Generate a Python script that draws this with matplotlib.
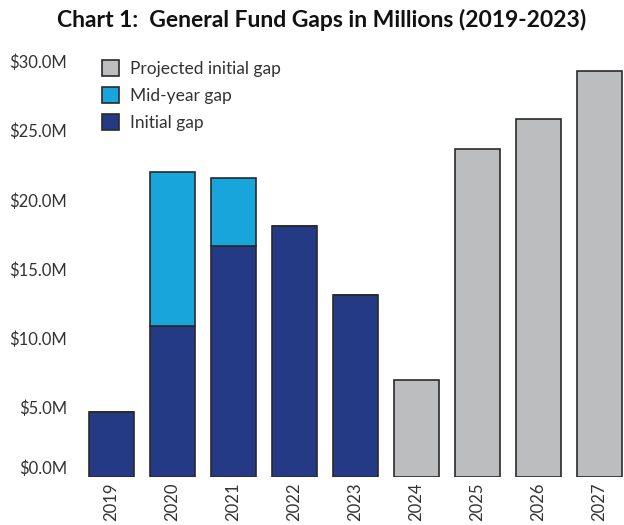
import matplotlib.pyplot as plt
import numpy as np

years = ['2019', '2020', '2021', '2022', '2023', '2024', '2025', '2026', '2027']
initial_gap = [4.7, 10.9, 16.7, 18.1, 13.1]          # 2019-2023
midyear_gap = [0.0, 11.1, 4.9, 0.0, 0.0]             # on top of initial gap
projected_gap = [7.0, 23.7, 25.8, 29.3]              # 2024-2027
yticks = [0, 5, 10, 15, 20, 25, 30]

navy = '#243a84'
cyan = '#17a5dc'
grey = '#bbbdbe'
edge = '#2a2a2a'

plt.rcParams['font.family'] = ['Lato', 'DejaVu Sans']

fig = plt.figure(figsize=(6.24, 5.25), dpi=100)
ax = fig.add_axes([0.125, 0.0914, 0.875, 0.80])

x = np.arange(len(years))
n_act = len(initial_gap)
w = 0.75
ax.bar(x[:n_act], initial_gap, width=w, color=navy, edgecolor=edge, linewidth=1.2, label='Initial gap')
ax.bar(x[:n_act], midyear_gap, bottom=initial_gap, width=w, color=cyan, edgecolor=edge, linewidth=1.2,
       label='Mid-year gap')
ax.bar(x[n_act:], projected_gap, width=w, color=grey, edgecolor=edge, linewidth=1.2,
       label='Projected initial gap')

ax.set_xlim(-0.55, 8.4)
ax.set_ylim(0, 30.3)
ax.set_yticks(yticks)
ax.set_yticklabels([f'${v:.1f}M' for v in yticks], fontsize=12, color='#333333')
ax.get_yticklabels()[0].set_va('bottom')
ax.set_xticks(x)
ax.set_xticklabels(years, rotation=90, fontsize=12, color='#333333')
ax.tick_params(length=0, pad=4)
ax.tick_params(axis='y', pad=8)
for s in ax.spines.values():
    s.set_visible(False)

h, l = ax.get_legend_handles_labels()
ax.legend(h[::-1], l[::-1], loc='upper left', bbox_to_anchor=(0.015, 1.03), frameon=False,
          fontsize=12.5, handlelength=1.0, handleheight=1.0, handletextpad=0.6, labelspacing=0.6,
          labelcolor='#333333')

fig.text(0.516, 0.962, 'Chart 1:  General Fund Gaps in Millions (2019-2023)', ha='center', va='center',
         fontsize=16.5, fontweight='bold', color='#111111')

fig.savefig('out.png', dpi=100)
